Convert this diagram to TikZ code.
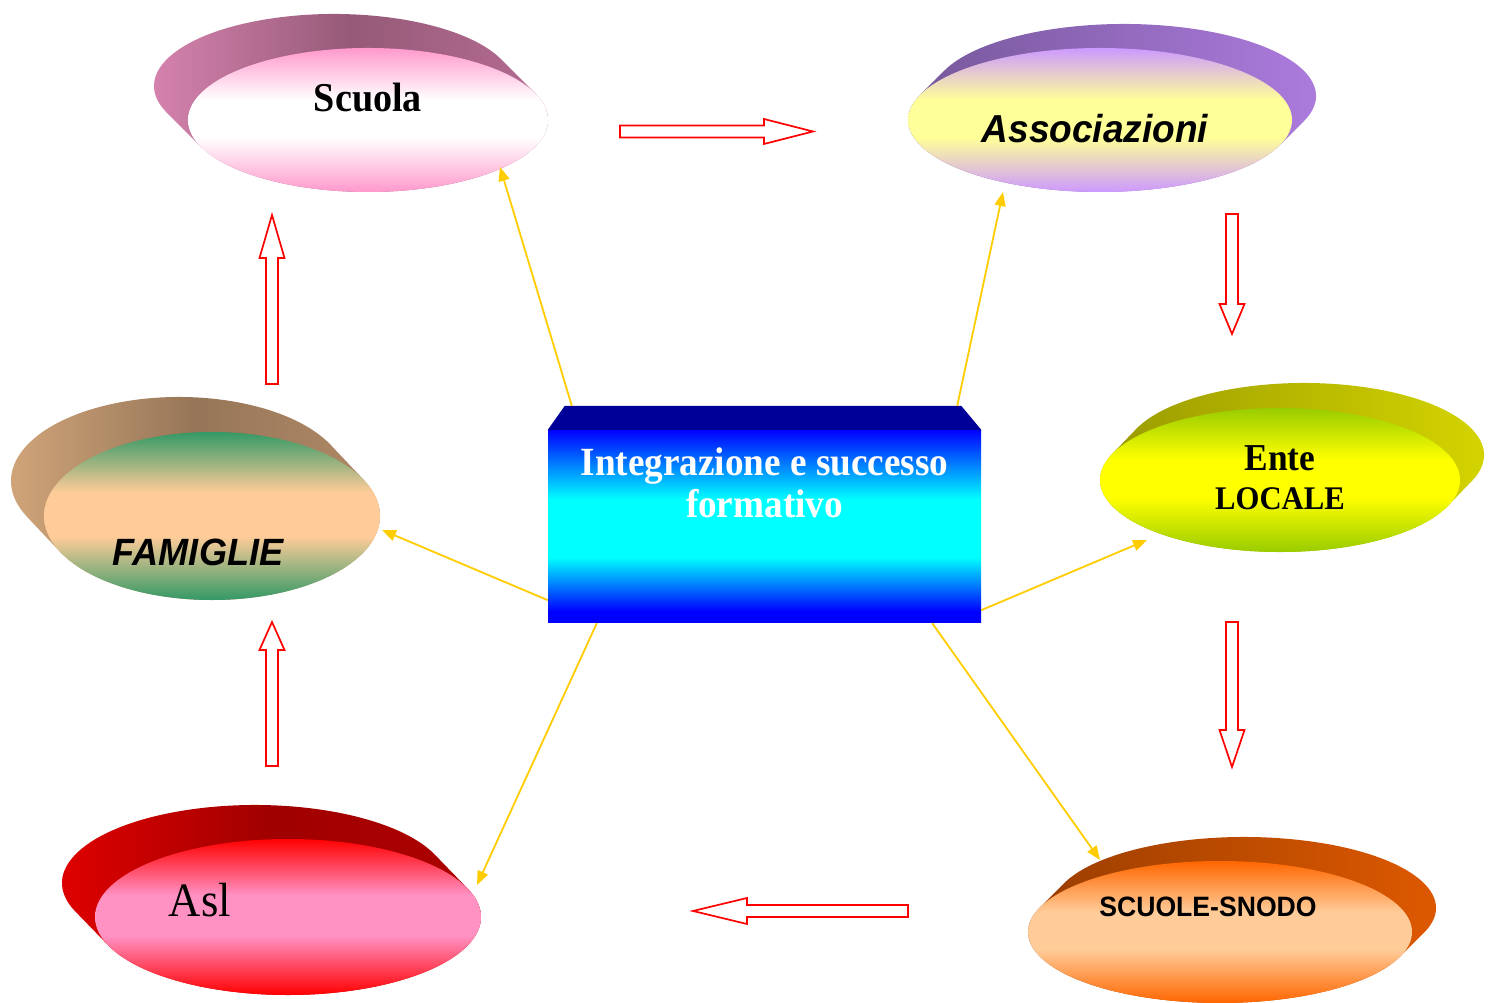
\documentclass[tikz,border=0pt]{standalone}
\usepackage{fontspec}
\newfontfamily\tnr{Liberation Serif}[FakeStretch=0.93]
\newfontfamily\arl{Liberation Sans}[FakeStretch=0.95]
\usetikzlibrary{shapes.geometric,arrows.meta,calc}
\pgfdeclareverticalshading{boxsh}{100bp}{color(0bp)=(blue); color(25bp)=(blue); color(28bp)=(blue); color(42bp)=(cyan); color(57bp)=(cyan); color(75bp)=(blue); color(100bp)=(blue)}
\definecolor{conncol}{RGB}{255,204,0}
\definecolor{navytop}{RGB}{0,0,153}
\definecolor{scuolaA}{RGB}{255,153,204}
\definecolor{scuolaB}{RGB}{255,255,255}
\definecolor{assocA}{RGB}{204,153,255}
\definecolor{assocB}{RGB}{255,255,153}
\definecolor{enteA}{RGB}{153,204,0}
\definecolor{enteB}{RGB}{255,255,0}
\definecolor{snodoA}{RGB}{255,102,0}
\definecolor{snodoB}{RGB}{255,204,153}
\definecolor{famA}{RGB}{51,153,102}
\definecolor{famB}{RGB}{255,204,153}
\definecolor{aslA}{RGB}{255,0,0}
\definecolor{aslB}{RGB}{255,145,195}
\newcommand\triband[3]{\pgfdeclareverticalshading{#1}{100bp}{color(0bp)=(#2); color(25bp)=(#2); color(44bp)=(#3); color(57bp)=(#3); color(75bp)=(#2); color(100bp)=(#2)}}
\triband{scuolash}{scuolaA}{scuolaB}
\triband{assocsh}{assocA}{assocB}
\triband{entesh}{enteA}{enteB}
\triband{snodosh}{snodoA}{snodoB}
\triband{famsh}{famA}{famB}
\triband{aslsh}{aslA}{aslB}
\tikzset{
  scuola back/.style={shade, left color={rgb,255:red,220;green,135;blue,180}, right color={rgb,255:red,185;green,110;blue,150}, middle color={rgb,255:red,150;green,90;blue,120}},
  scuola front/.style={shading=scuolash},
  assoc back/.style={shade, left color={rgb,255:red,115;green,85;blue,150}, right color={rgb,255:red,175;green,125;blue,225}},
  assoc front/.style={shading=assocsh},
  ente back/.style={shade, left color={rgb,255:red,150;green,150;blue,0}, right color={rgb,255:red,215;green,215;blue,0}},
  ente front/.style={shading=entesh},
  snodo back/.style={shade, left color={rgb,255:red,150;green,60;blue,0}, right color={rgb,255:red,225;green,90;blue,0}},
  snodo front/.style={shading=snodosh},
  famiglie back/.style={shade, left color={rgb,255:red,215;green,170;blue,125}, right color={rgb,255:red,180;green,140;blue,105}, middle color={rgb,255:red,150;green,118;blue,88}},
  famiglie front/.style={shading=famsh},
  asl back/.style={shade, left color={rgb,255:red,230;green,0;blue,0}, right color={rgb,255:red,175;green,0;blue,0}, middle color={rgb,255:red,160;green,0;blue,0}},
  asl front/.style={shading=aslsh},
  lbl/.style={inner sep=0pt, anchor=base},
  conn/.style={draw=conncol, line width=1.8pt, -{Triangle[length=14pt,width=11pt]}},
  blockarrow/.style={draw=red, fill=white, line width=1.7pt, line join=miter},
  boxface/.style={rectangle, inner sep=0pt, minimum width=433pt, minimum height=193pt, shading=boxsh}
}
\newcommand\blob[7]{%
  \pgfmathsetmacro\blobM{atan2((#7)/(#5),(#6)/(#4))}%
  \pgfmathsetmacro\blobA{\blobM-90}%
  \pgfmathsetmacro\blobB{\blobM+90}%
  \pgfmathsetmacro\blobC{\blobM+270}%
  \pgfmathsetmacro\blobX{#2+(#6)+#4*cos(\blobA)}%
  \pgfmathsetmacro\blobY{#3+(#7)+#5*sin(\blobA)}%
  \pgfmathsetmacro\blobDX{-(#6)}%
  \pgfmathsetmacro\blobDY{-(#7)}%
  \pgfmathsetmacro\blobW{2*#4}%
  \pgfmathsetmacro\blobH{2*#5}%
  \path[#1 back] (\blobX,\blobY) arc[start angle=\blobA, end angle=\blobB, x radius=#4pt, y radius=#5pt]
     -- ++(\blobDX,\blobDY) arc[start angle=\blobB, end angle=\blobC, x radius=#4pt, y radius=#5pt] -- cycle;
  \node[#1 front, ellipse, inner sep=0pt, minimum width=\blobW pt, minimum height=\blobH pt] (#1) at (#2,#3) {};
}
\begin{document}
\begin{tikzpicture}[x=1pt,y=1pt]
\useasboundingbox (0,0) rectangle (1494,1003);
\blob{scuola}{368}{883}{180}{72}{-34}{34}
\blob{assoc}{1100}{883}{192}{72}{24}{24}
\blob{famiglie}{212}{487}{168}{84}{-33}{35}
\blob{ente}{1280}{523}{180}{72}{24}{25}
\blob{asl}{288}{86}{193}{78}{-33}{34}
\blob{snodo}{1220}{71}{192}{71}{24}{24}

\node[lbl] (scuolaT) at (368,891) {\tnr\bfseries\fontsize{41}{41}\selectfont Scuola};
\node[lbl] (assocT) at (1095,860) {\arl\bfseries\itshape\fontsize{39}{39}\selectfont Associazioni};
\node[lbl] (enteT) at (1280,532) {\tnr\bfseries\fontsize{38}{38}\selectfont Ente};
\node[lbl] (localeT) at (1280,493) {\tnr\bfseries\fontsize{33}{33}\selectfont LOCALE};
\node[lbl] (snodoT) at (1208,86) {\arl\bfseries\fontsize{28}{28}\selectfont SCUOLE-SNODO};
\node[lbl] (famiglieT) at (198,437) {\arl\bfseries\itshape\fontsize{38}{38}\selectfont FAMIGLIE};
\node[lbl] (aslT) at (200,86) {\tnr\fontsize{48}{48}\selectfont Asl};

% central box
\node[boxface] (box) at (764.5,476.5) {};
\fill[navytop] (box.north west) -- ++(17,24) -- ($(box.north east)+(-20,24)$) -- (box.north east) -- cycle;
\node[lbl, text=white] (boxT1) at (764.5,527) {\tnr\bfseries\fontsize{40}{40}\selectfont Integrazione e successo};
\node[lbl, text=white] (boxT2) at (764.5,485) {\tnr\bfseries\fontsize{40}{40}\selectfont formativo};

% connectors
\draw[conn] ($(box.north west)+(24,24)$) -- ($(scuola.center)+(132,-47)$);
\draw[conn] ($(box.north east)+(-24,24)$) -- ($(assoc.center)+(-97,-72)$);
\draw[conn] ($(box.south west)+(0,23)$) -- ($(famiglie.center)+(170,-14)$);
\draw[conn] ($(box.south east)+(0,13)$) -- ($(ente.center)+(-133,-60)$);
\draw[conn] ($(box.south west)+(49,0)$) -- ($(asl.center)+(189,32)$);
\draw[conn] ($(box.south east)+(-49,0)$) -- ($(snodo.center)+(-120,72)$);

% block arrows
\draw[blockarrow] (620,865.5) -- (764,865.5) -- (764,859) -- (813,871.5) -- (764,884) -- (764,877.5) -- (620,877.5) -- cycle;
\draw[blockarrow] (1226,789) -- (1238,789) -- (1238,699) -- (1244.5,699) -- (1232,669) -- (1219.5,699) -- (1226,699) -- cycle;
\draw[blockarrow] (1226,381) -- (1238,381) -- (1238,273) -- (1244.5,273) -- (1232,236) -- (1219.5,273) -- (1226,273) -- cycle;
\draw[blockarrow] (908,98) -- (747,98) -- (747,105) -- (693,92) -- (747,79) -- (747,86) -- (908,86) -- cycle;
\draw[blockarrow] (266,619) -- (266,745) -- (259.5,745) -- (272,788) -- (284.5,745) -- (278,745) -- (278,619) -- cycle;
\draw[blockarrow] (266,237) -- (266,353) -- (259.5,353) -- (272,381) -- (284.5,353) -- (278,353) -- (278,237) -- cycle;
\end{tikzpicture}
\end{document}
